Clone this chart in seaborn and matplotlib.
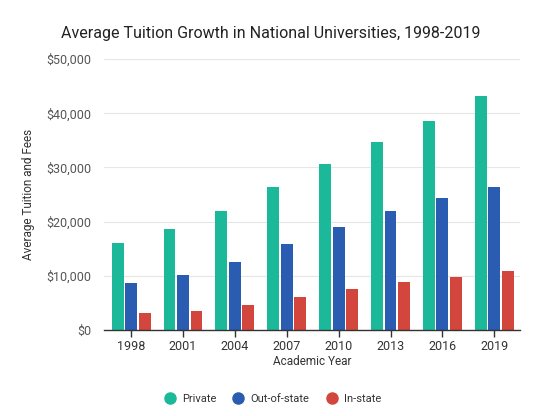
import numpy as np
import pandas as pd
import seaborn as sns
import matplotlib.pyplot as plt
from matplotlib.lines import Line2D
from matplotlib.ticker import FuncFormatter

years = ["1998", "2001", "2004", "2007", "2010", "2013", "2016", "2019"]
private = [16070, 18540, 21870, 26300, 30600, 34670, 38600, 43220]
out_of_state = [8620, 10100, 12560, 15770, 18970, 21870, 24330, 26300]
in_state = [3140, 3510, 4620, 6100, 7460, 8810, 9790, 10790]
series = ["Private", "Out-of-state", "In-state"]
colors = ["#1bb99a", "#2a5cb2", "#d2463d"]

df = pd.DataFrame({"Year": years, "Private": private,
                   "Out-of-state": out_of_state, "In-state": in_state})
df = df.melt(id_vars="Year", var_name="Type", value_name="Value")

sns.set_style("white")
plt.rcParams["font.family"] = ["Roboto", "DejaVu Sans"]

fig = plt.figure(figsize=(5.54, 4.16), dpi=100)
ax = fig.add_axes([0.188, 0.207, 0.751, 0.651])

sns.barplot(data=df, x="Year", y="Value", hue="Type", hue_order=series,
            palette=colors, width=0.78, gap=0.12, saturation=1,
            linewidth=0, legend=False, ax=ax)

ax.set_ylim(0, 50000)
ax.set_xlim(-0.52, 7.5)
ax.set_yticks(range(0, 50001, 10000))
ax.yaxis.set_major_formatter(FuncFormatter(lambda v, p: f"${v:,.0f}"))
ax.grid(axis="y", color="#e6e6e6", linewidth=0.8)
ax.set_axisbelow(True)
for s in ["top", "right", "left"]:
    ax.spines[s].set_visible(False)
ax.spines["bottom"].set_color("#333333")
ax.spines["bottom"].set_linewidth(1)
ax.tick_params(axis="x", bottom=True, length=5, width=1, color="#333333",
               labelsize=9, labelcolor="#333333", pad=2)
ax.tick_params(axis="y", left=False, labelsize=9, labelcolor="#555555", pad=6)

ax.set_xlabel("Academic Year", fontsize=8.5, color="#333333", labelpad=2)
ax.set_ylabel("Average Tuition and Fees", fontsize=8.5, color="#333333", labelpad=8)
fig.text(0.488, 0.92, "Average Tuition Growth in National Universities, 1998-2019",
         ha="center", va="center", fontsize=11.5, color="#222222")

handles = [Line2D([], [], marker="o", linestyle="", markersize=8,
                  markerfacecolor=c, markeredgecolor=c) for c in colors]
fig.legend(handles, series, loc="center", bbox_to_anchor=(0.487, 0.04),
           ncol=3, frameon=False, fontsize=8, handletextpad=0.1,
           columnspacing=1.0, labelcolor="#333333")

fig.savefig("out.png", dpi=100)
